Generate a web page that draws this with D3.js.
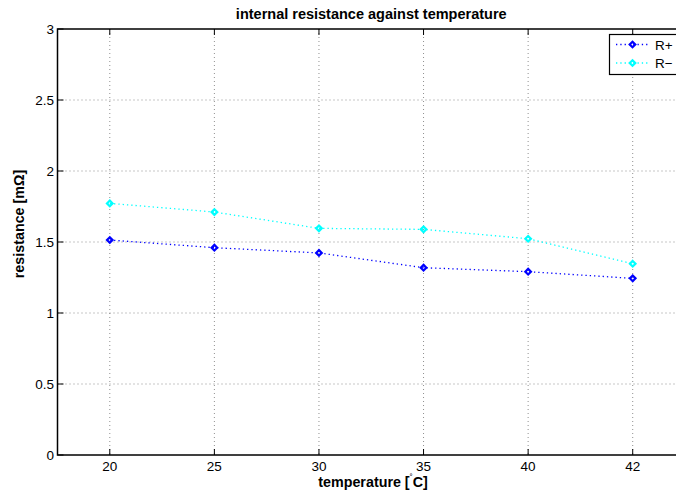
<!DOCTYPE html>
<html lang="en">
<head>
    <meta charset="UTF-8">
    <title>internal resistance against temperature</title>
    <script src="https://d3js.org/d3.v7.min.js"></script>
    <style>
        body { margin: 0; overflow: hidden; background: #fff; }
        svg { display: block; font-family: "Liberation Sans", Arial, sans-serif; }
    </style>
</head>
<body>
    <script>
        // Data
        const temperatures = ["20", "25", "30", "35", "40", "42"];
        const rPlus = [1.514, 1.460, 1.423, 1.319, 1.291, 1.244];
        const rMinus = [1.772, 1.711, 1.596, 1.589, 1.523, 1.347];
        const yTicks = [0, 0.5, 1, 1.5, 2, 2.5, 3];

        const series = [
            { name: "R+", values: rPlus, color: "#0000ff" },
            { name: "R\u2212", values: rMinus, color: "#00ffff" }
        ];

        const width = 676, height = 496;
        const plotLeft = 57.5, plotTop = 29, plotBottom = 455, plotRight = 685;

        const x = d3.scaleLinear().domain([0.5, temperatures.length + 0.5]).range([plotLeft, plotRight]);
        const y = d3.scaleLinear().domain([0, 3]).range([plotBottom, plotTop]);

        const svg = d3.select("body").append("svg")
            .attr("width", width)
            .attr("height", height);

        // grid
        const grid = svg.append("g")
            .attr("stroke", "#444")
            .attr("stroke-width", 0.6)
            .attr("stroke-dasharray", "1,3");
        temperatures.forEach((t, i) => {
            grid.append("line")
                .attr("x1", x(i + 1)).attr("x2", x(i + 1))
                .attr("y1", plotTop).attr("y2", plotBottom);
        });
        yTicks.slice(1, -1).forEach(v => {
            grid.append("line")
                .attr("x1", plotLeft).attr("x2", plotRight)
                .attr("y1", y(v)).attr("y2", y(v));
        });

        // axes box
        svg.append("rect")
            .attr("x", plotLeft).attr("y", plotTop)
            .attr("width", plotRight - plotLeft).attr("height", plotBottom - plotTop)
            .attr("fill", "none").attr("stroke", "#000").attr("stroke-width", 1.5);

        // x ticks
        const xAxis = svg.append("g");
        temperatures.forEach((t, i) => {
            const px = x(i + 1);
            xAxis.append("line").attr("x1", px).attr("x2", px).attr("y1", plotBottom).attr("y2", plotBottom - 6)
                .attr("stroke", "#000");
            xAxis.append("line").attr("x1", px).attr("x2", px).attr("y1", plotTop).attr("y2", plotTop + 6)
                .attr("stroke", "#000");
            xAxis.append("text")
                .attr("x", px).attr("y", 470.5)
                .attr("text-anchor", "middle")
                .attr("font-size", 13.5)
                .text(t);
        });

        // y ticks
        const yAxis = svg.append("g");
        yTicks.forEach(v => {
            yAxis.append("line").attr("x1", plotLeft).attr("x2", plotLeft + 6).attr("y1", y(v)).attr("y2", y(v))
                .attr("stroke", "#000");
            yAxis.append("text")
                .attr("x", plotLeft - 3.5).attr("y", y(v) + 5)
                .attr("text-anchor", "end")
                .attr("font-size", 13.5)
                .text(v);
        });

        // title and labels
        svg.append("text")
            .attr("x", (plotLeft + plotRight) / 2).attr("y", 19)
            .attr("text-anchor", "middle")
            .attr("font-size", 14.5).attr("font-weight", "bold")
            .text("internal resistance against temperature");

        const xl = svg.append("text")
            .attr("x", 373).attr("y", 487)
            .attr("text-anchor", "middle")
            .attr("font-size", 14.3).attr("font-weight", "bold");
        xl.append("tspan").text("temperature [");
        xl.append("tspan").attr("font-size", 9).attr("dy", -6).attr("font-weight", "normal").text("\u02DA");
        xl.append("tspan").attr("dy", 6).text("C]");

        svg.append("text")
            .attr("transform", "translate(24,224) rotate(-90)")
            .attr("text-anchor", "middle")
            .attr("font-size", 14.3).attr("font-weight", "bold")
            .text("resistance [m\u03A9]");

        // series
        const line = d3.line().x((d, i) => x(i + 1)).y(d => y(d));
        const diamond = d3.symbol().type(d3.symbolDiamond2).size(20);

        series.forEach(s => {
            const g = svg.append("g");
            g.append("path")
                .attr("d", line(s.values))
                .attr("fill", "none")
                .attr("stroke", s.color)
                .attr("stroke-width", 1.3)
                .attr("stroke-dasharray", "1.3,3");
            g.selectAll("path.m")
                .data(s.values)
                .join("path")
                .attr("class", "m")
                .attr("transform", (d, i) => `translate(${x(i + 1)},${y(d)})`)
                .attr("d", diamond)
                .attr("fill", "none")
                .attr("stroke", s.color)
                .attr("stroke-width", 2.2);
        });

        // legend
        const lg = svg.append("g");
        lg.append("rect")
            .attr("x", 609.5).attr("y", 34.5)
            .attr("width", 90).attr("height", 40)
            .attr("fill", "#fff").attr("stroke", "#000").attr("stroke-width", 1.2);
        series.forEach((s, i) => {
            const ly = 44.5 + i * 18.5;
            lg.append("line")
                .attr("x1", 616).attr("x2", 649).attr("y1", ly).attr("y2", ly)
                .attr("stroke", s.color).attr("stroke-width", 1.3).attr("stroke-dasharray", "1.3,3");
            lg.append("path")
                .attr("transform", `translate(632.5,${ly})`)
                .attr("d", diamond)
                .attr("fill", "none").attr("stroke", s.color).attr("stroke-width", 2.2);
            lg.append("text")
                .attr("x", 655).attr("y", ly + 5)
                .attr("font-size", 13.5)
                .text(s.name);
        });
    </script>
</body>
</html>
